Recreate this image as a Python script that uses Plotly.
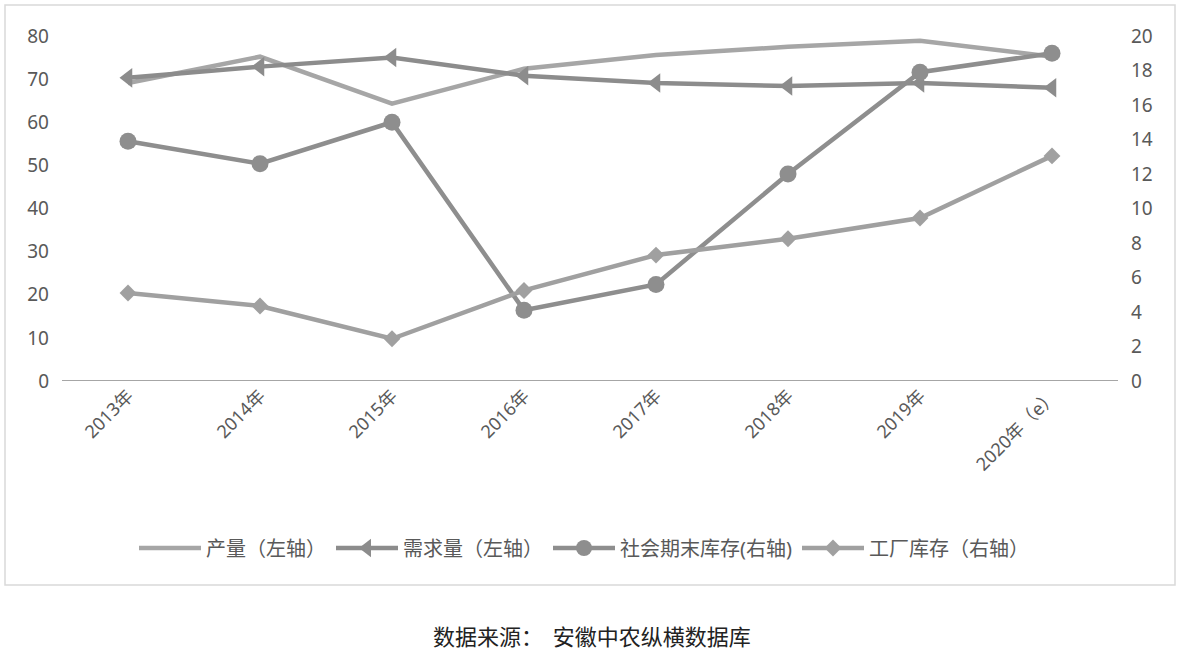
import plotly.graph_objects as go

categories = ["2013年", "2014年", "2015年", "2016年", "2017年", "2018年", "2019年", "2020年（e）"]
production = [69.1, 75.2, 64.3, 72.4, 75.6, 77.5, 78.9, 75.2]
demand = [70.3, 72.9, 75.0, 70.8, 69.1, 68.4, 69.1, 68.0]
social_stock = [13.9, 12.6, 15.0, 4.1, 5.6, 12.0, 17.9, 19.0]
factory_stock = [5.1, 4.35, 2.45, 5.25, 7.3, 8.25, 9.45, 13.05]
left_ticks = [0, 10, 20, 30, 40, 50, 60, 70, 80]
right_ticks = [0, 2, 4, 6, 8, 10, 12, 14, 16, 18, 20]

W, H = 1181, 655
L, R, T, B = 62, 1118, 36, 381
pw, ph = R - L, B - T

def px(x):
    return (x - L) / pw

def py(y):
    return (B - y) / ph

font_fam = "Noto Sans, Noto Sans CJK SC, sans-serif"

fig = go.Figure()
fig.add_trace(go.Scatter(x=categories, y=production, name="产量（左轴）", mode="lines",
                         line=dict(color="#A6A6A6", width=4.5)))
fig.add_trace(go.Scatter(x=categories, y=demand, name="需求量（左轴）", mode="lines+markers",
                         line=dict(color="#8C8C8C", width=4.5),
                         marker=dict(symbol="triangle-left", size=17, color="#8C8C8C")))
fig.add_trace(go.Scatter(x=categories, y=social_stock, name="社会期末库存(右轴)", mode="lines+markers",
                         yaxis="y2", line=dict(color="#8E8E8E", width=4.5),
                         marker=dict(symbol="circle", size=17, color="#8E8E8E")))
fig.add_trace(go.Scatter(x=categories, y=factory_stock, name="工厂库存（右轴）", mode="lines+markers",
                         yaxis="y2", line=dict(color="#A0A0A0", width=4.5),
                         marker=dict(symbol="diamond", size=13, color="#A0A0A0")))

fig.update_layout(
    width=W, height=H,
    margin=dict(l=L, r=W - R, t=T, b=H - B),
    paper_bgcolor="white", plot_bgcolor="white",
    font=dict(family=font_fam, size=19, color="#595959"),
    showlegend=True,
    legend=dict(orientation="h", x=px(584), xanchor="center", y=py(548), yanchor="middle",
                font=dict(size=20, color="#595959"), itemwidth=62, bgcolor="rgba(0,0,0,0)"),
    xaxis=dict(type="category", range=[-0.5, 7.5], tickangle=-45, showgrid=False,
               showline=False, zeroline=False, ticks="", tickfont=dict(size=18, color="#595959")),
    yaxis=dict(range=[0, 80], tickvals=left_ticks, showgrid=False, zeroline=False,
               showline=False, ticks="", ticklabelstandoff=12),
    yaxis2=dict(range=[0, 20], tickvals=right_ticks, overlaying="y", side="right",
                showgrid=False, zeroline=False, showline=False, ticks="", ticklabelstandoff=12),
)

# x axis baseline
fig.add_shape(type="line", xref="paper", yref="y", x0=0, x1=1, y0=0, y1=0,
              line=dict(color="#A6A6A6", width=2), layer="below")
# outer chart border
fig.add_shape(type="rect", xref="paper", yref="paper", x0=px(5), x1=px(1175), y0=py(585), y1=py(5),
              line=dict(color="#D9D9D9", width=1.5), fillcolor="rgba(0,0,0,0)")

fig.add_annotation(text="数据来源：  安徽中农纵横数据库", xref="paper", yref="paper",
                   x=px(592), y=py(635), xanchor="center", yanchor="middle", showarrow=False,
                   font=dict(family="Noto Sans CJK SC, sans-serif", size=22, color="#222222"))

fig.write_html("out.html", config={"displayModeBar": False},
               post_script="document.body.style.margin='0';")
